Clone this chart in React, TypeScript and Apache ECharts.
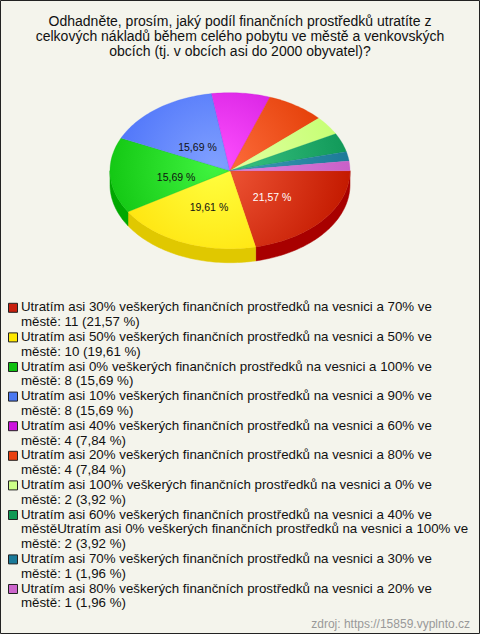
import React, { useEffect, useRef } from "react";
import * as echarts from "echarts";

const TITLE_LINES = [
  "Odhadněte, prosím, jaký podíl finančních prostředků utratíte z",
  "celkových nákladů během celého pobytu ve městě a venkovských",
  "obcích (tj. v obcích asi do 2000 obyvatel)?",
];

const categories = [
  "Utratím asi 30% veškerých finančních prostředků na vesnici a 70% ve městě",
  "Utratím asi 50% veškerých finančních prostředků na vesnici a 50% ve městě",
  "Utratím asi 0% veškerých finančních prostředků na vesnici a 100% ve městě",
  "Utratím asi 10% veškerých finančních prostředků na vesnici a 90% ve městě",
  "Utratím asi 40% veškerých finančních prostředků na vesnici a 60% ve městě",
  "Utratím asi 20% veškerých finančních prostředků na vesnici a 80% ve městě",
  "Utratím asi 100% veškerých finančních prostředků na vesnici a 0% ve městě",
  "Utratím asi 60% veškerých finančních prostředků na vesnici a 40% ve městěUtratím asi 0% veškerých finančních prostředků na vesnici a 100% ve městě",
  "Utratím asi 70% veškerých finančních prostředků na vesnici a 30% ve městě",
  "Utratím asi 80% veškerých finančních prostředků na vesnici a 20% ve městě",
];

const values = [11, 10, 8, 8, 4, 4, 2, 2, 1, 1];

const legendColors = [
  "#c8200e", "#ffe800", "#10c010", "#4a78f0", "#cc11dd",
  "#e84010", "#ccff88", "#109955", "#1a7a99", "#cc66cc",
];
const topLight = [
  "#f25a3a", "#ffff40", "#40f440", "#80a0ff", "#ff50ff",
  "#ff7040", "#e4ffa8", "#40c888", "#40a0b8", "#e088e0",
];
const topDark = [
  "#c41a00", "#ffdc00", "#08bc08", "#4068f8", "#c810d8",
  "#e03800", "#c4ff70", "#109858", "#1c7a98", "#c860c8",
];
const sideColors = [
  "#a80000", "#e0c800", "#00a800", "#3050c0", "#a000b0",
  "#b02800", "#a0d060", "#087040", "#105a70", "#a040a0",
];

const SOURCE = "zdroj: https://15859.vyplnto.cz";

const FONT = "'Liberation Sans', Arial, sans-serif";

export default function App() {
  const ref = useRef<HTMLDivElement>(null);
  useEffect(() => {
    document.body.style.margin = "0";
    const chart = echarts.init(ref.current!, null, { renderer: "svg" });
    const total = values.reduce((a, b) => a + b, 0);
    const starts: number[] = [];
    let acc = 0;
    values.forEach((v) => {
      starts.push(acc);
      acc += v;
    });
    const cx = 230, cy = 170.7, rx = 120, ry = 78, depth = 14;
    const pct = (v: number) => ((v / total) * 100).toFixed(2).replace(".", ",");

    const arcPts = (a0: number, a1: number, dy: number) => {
      const pts: number[][] = [];
      const n = Math.max(2, Math.ceil(((a1 - a0) / Math.PI) * 120));
      for (let i = 0; i <= n; i++) {
        const a = a0 + ((a1 - a0) * i) / n;
        pts.push([cx + rx * Math.cos(a), cy + ry * Math.sin(a) + dy]);
      }
      return pts;
    };

    const renderItem = (params: any, api: any) => {
      const i = params.dataIndex;
      const v = api.value(0);
      const a0 = (starts[i] / total) * Math.PI * 2;
      const a1 = ((starts[i] + v) / total) * Math.PI * 2;
      const children: any[] = [];
      const s = Math.max(a0, 0);
      const e = Math.min(a1, Math.PI);
      if (e > s) {
        const topArc = arcPts(s, e, 0);
        const botArc = arcPts(s, e, depth).reverse();
        children.push({
          type: "polygon",
          z2: 1,
          shape: { points: topArc.concat(botArc) },
          style: { fill: sideColors[i], stroke: sideColors[i], lineWidth: 0.5 },
        });
      }
      children.push({
        type: "polygon",
        z2: 10,
        shape: { points: [[cx, cy]].concat(arcPts(a0, a1, 0)) },
        style: {
          fill: {
            type: "radial",
            x: cx - 15,
            y: cy - 5,
            r: 135,
            global: true,
            colorStops: [
              { offset: 0, color: topLight[i] },
              { offset: 1, color: topDark[i] },
            ],
          },
          stroke: topDark[i],
          lineWidth: 0.3,
        },
      });
      if (v / total >= 0.1) {
        const m = (a0 + a1) / 2;
        children.push({
          type: "text",
          z2: 20,
          x: cx + rx * 0.45 * Math.cos(m),
          y: cy + ry * 0.45 * Math.sin(m) + 4,
          style: {
            text: pct(v) + " %",
            font: `10.5px ${FONT}`,
            fill: i === 0 ? "#ffffff" : "#111111",
            align: "center",
            verticalAlign: "middle",
          },
        });
      }
      return { type: "group", children };
    };

    const graphics: any[] = [];
    graphics.push({
      type: "rect",
      shape: { x: 0.5, y: 0.5, width: 479, height: 633 },
      style: { fill: "#f4f4ec", stroke: "#222222", lineWidth: 1 },
      z: -10,
    });
    TITLE_LINES.forEach((t, k) => {
      graphics.push({
        type: "text",
        x: 240,
        y: 20.5 + k * 15,
        style: {
          text: t,
          font: `14px ${FONT}`,
          fill: "#111111",
          align: "center",
          verticalAlign: "middle",
        },
      });
    });
    const lh = 14.8;
    let line = 0;
    categories.forEach((name, i) => {
      const label = (name + ": " + values[i] + " (" + pct(values[i]) + " %)").replace(/ městě/g, "\nměstě");
      const nLines = label.split("\n").length;
      const top = 306.8 + line * lh;
      graphics.push({
        type: "rect",
        shape: { x: 8.5, y: top - 3.5, width: 9, height: 9 },
        style: { fill: legendColors[i], stroke: "#222222", lineWidth: 1 },
      });
      label.split("\n").forEach((t, k) => {
        graphics.push({
          type: "text",
          x: 21,
          y: top + k * lh,
          style: {
            text: t,
            font: `13.3px ${FONT}`,
            fill: "#111111",
            align: "left",
            verticalAlign: "middle",
          },
        });
      });
      line += nLines;
    });
    graphics.push({
      type: "text",
      x: 470,
      y: 624,
      style: {
        text: SOURCE,
        font: `12px ${FONT}`,
        fill: "#999999",
        align: "right",
        verticalAlign: "middle",
      },
    });

    chart.setOption({
      animation: false,
      backgroundColor: "#f4f4ec",
      graphic: graphics,
      series: [
        {
          type: "custom",
          coordinateSystem: "none",
          renderItem,
          data: values.map((v, i) => ({ name: categories[i], value: [v] })),
          z: 5,
        },
      ],
    });
    return () => chart.dispose();
  }, []);
  return <div ref={ref} style={{ width: 480, height: 634 }} />;
}
